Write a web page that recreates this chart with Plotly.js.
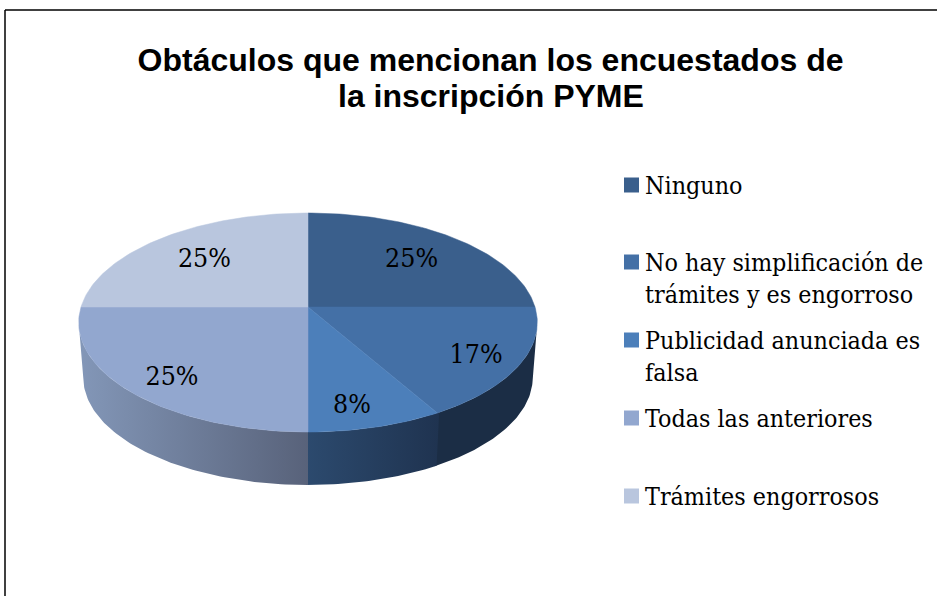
<!DOCTYPE html>
<html>
<head>
<meta charset="utf-8">
<script src="https://cdn.plot.ly/plotly-3.0.1.min.js"></script>
<style>html,body{margin:0;padding:0;background:#fff}#chart{width:937px;height:596px}</style>
</head>
<body>
<div id="chart"></div>
<script>
// ---- data ----
const categories = ["Ninguno", "No hay simplificación de trámites y es engorroso", "Publicidad anunciada es falsa", "Todas las anteriores", "Trámites engorrosos"];
const values = [25, 16.67, 8.33, 25, 25];
const legendLines = [["Ninguno"], ["No hay simplificación de", "trámites y es engorroso"], ["Publicidad anunciada es", "falsa"], ["Todas las anteriores"], ["Trámites engorrosos"]];
const titleLines = ["Obtáculos que mencionan los encuestados de", "la inscripción PYME"];

// ---- styles ----
const topColors = ["#3a5f8c", "#4470a6", "#4c7fba", "#92a7cf", "#b9c6de"];
const wallGradients = [null, ["#1b2d45", "#1b2d45"], ["#2c4a6e", "#1f3350"], ["#8397b8", "#58627a"], null];
const wallOverlap = [0, 0, 0.5, 0, 0];
const labelRadius = [0.69, 0.81, 0.82, 0.805, 0.69];
const labelAngleShift = [0, 0.6, 2.9, -2, 0];
const labelDrop = 2;
const legendFont = {family: '"DejaVu Serif Condensed","DejaVu Serif",serif', size: 24.8, color: "#000"};
const labelFont = {family: '"DejaVu Serif Condensed","DejaVu Serif",serif', size: 26.5, color: "#000"};
const titleFont = {family: '"Liberation Sans",Arial,sans-serif', size: 32, color: "#000", weight: 700};
const legendY = [185, 262, 340, 418, 496];

// ---- perspective projection of the pie disc into the pixel-scaled axes ----
const CX = 308, CY = 307, RX = 227, RY = 107.3, K = 0.1416;
const DROP = 55.5, SHRINK = 0.98;
function project(deg, r, lower) {
  const a = deg * Math.PI / 180, u = Math.sin(a) * r, v = -Math.cos(a) * r, w = 1 - K * v;
  const s = lower ? SHRINK : 1;
  return [CX + s * RX * u / w, CY + (lower ? DROP : 0) + s * RY * v / w];
}
function arc(a0, a1, lower) {
  const n = Math.max(2, Math.ceil(Math.abs(a1 - a0))), pts = [];
  for (let i = 0; i <= n; i++) pts.push(project(a0 + (a1 - a0) * i / n, 1, lower));
  return pts;
}
const tangent = Math.acos(K) * 180 / Math.PI; // where the disc outline turns away
const visFrom = 90 + (90 - tangent), visTo = 270 - (90 - tangent);

const traces = [];
let start = 0;
const bounds = values.map(v => { const b = [start, start + v * 3.6]; start = b[1]; return b; });

// side walls
bounds.forEach((b, i) => {
  const a0 = Math.max(b[0] - wallOverlap[i], visFrom), a1 = Math.min(b[1] + (i === 2 ? 0.3 : 0), visTo);
  if (a1 <= a0 || !wallGradients[i]) return;
  const poly = arc(a0, a1, false).concat(arc(a1, a0, true));
  const xs = poly.map(p => p[0]);
  traces.push({
    type: "scatter", mode: "lines", x: xs.concat(xs[0]), y: poly.map(p => p[1]).concat(poly[0][1]),
    fill: "toself", line: {width: 0}, showlegend: false, hoverinfo: "skip",
    fillgradient: {type: "horizontal", start: Math.min(...xs), stop: Math.max(...xs),
      colorscale: [[0, wallGradients[i][0]], [1, wallGradients[i][1]]]}
  });
});

// top face
bounds.forEach((b, i) => {
  const poly = [[CX, CY]].concat(arc(b[0], b[1], false), [[CX, CY]]);
  traces.push({
    type: "scatter", mode: "lines", name: categories[i], x: poly.map(p => p[0]), y: poly.map(p => p[1]),
    fill: "toself", fillcolor: topColors[i], line: {width: 0.5, color: topColors[i]},
    showlegend: false, hoverinfo: "name"
  });
});

// percentage labels
const labelPts = bounds.map((b, i) => project((b[0] + b[1]) / 2 + labelAngleShift[i], labelRadius[i], false));
traces.push({
  type: "scatter", mode: "text", x: labelPts.map(p => p[0]), y: labelPts.map(p => p[1] + labelDrop),
  text: values.map(v => Math.round(v) + "%"), textposition: "middle center", textfont: labelFont,
  showlegend: false, hoverinfo: "skip"
});

// legend swatches
traces.push({
  type: "scatter", mode: "markers", x: legendY.map(() => 631.5), y: legendY,
  marker: {symbol: "square", size: 15, color: topColors, line: {width: 0}},
  showlegend: false, hoverinfo: "skip"
});

const annotations = [];
legendLines.forEach((lines, i) => lines.forEach((t, j) => annotations.push({
  xref: "x", yref: "y", x: 644, y: legendY[i] + j * 32, text: t, showarrow: false,
  xanchor: "left", yanchor: "middle", align: "left", font: legendFont, borderpad: 0
})));
annotations.push({
  xref: "x", yref: "y", x: 491, y: 96, text: titleLines[1], showarrow: false,
  xanchor: "center", yanchor: "middle", font: titleFont, borderpad: 0
});

const layout = {
  width: 937, height: 596, margin: {l: 0, r: 0, t: 0, b: 0, pad: 0},
  paper_bgcolor: "#fff", plot_bgcolor: "#fff", showlegend: false,
  title: {text: titleLines[0], font: titleFont,
    x: 490.5 / 937, xanchor: "center", y: 1 - 60 / 596, yanchor: "middle"},
  xaxis: {range: [0, 937], visible: false, fixedrange: true},
  yaxis: {range: [596, 0], visible: false, fixedrange: true},
  shapes: [
    {type: "line", xref: "x", yref: "y", x0: 5, y0: 10, x1: 937, y1: 10, line: {color: "#000", width: 1.5}},
    {type: "line", xref: "x", yref: "y", x0: 5, y0: 10, x1: 5, y1: 596, line: {color: "#000", width: 1.5}}
  ],
  annotations: annotations
};
Plotly.newPlot("chart", traces, layout, {displayModeBar: false});
</script>
</body>
</html>
